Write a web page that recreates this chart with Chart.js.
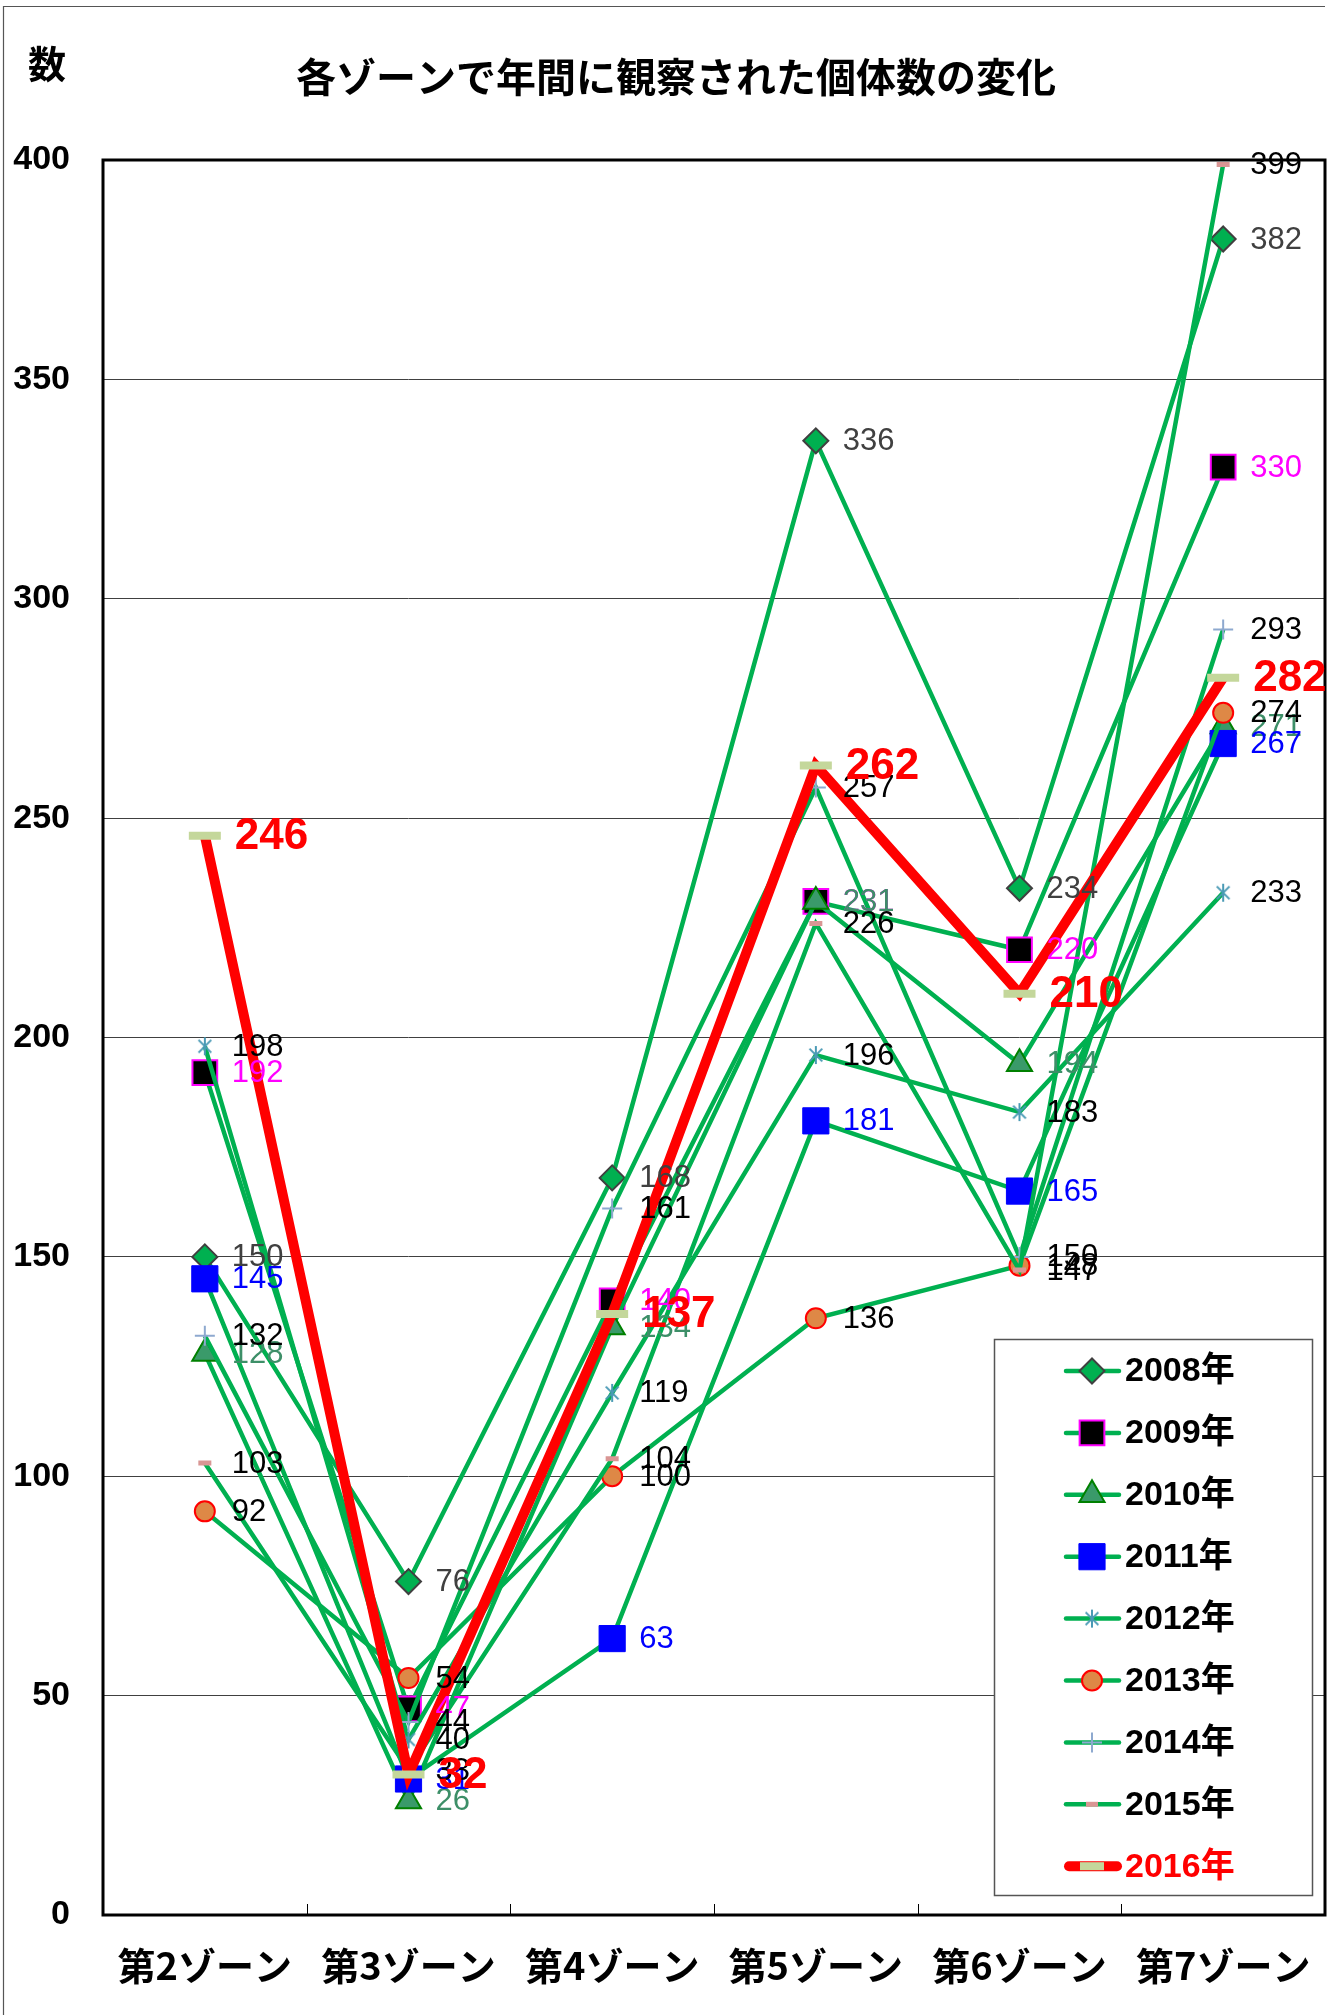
<!DOCTYPE html>
<html>
<head>
<meta charset="utf-8">
<script src="https://cdn.jsdelivr.net/npm/chart.js@4/dist/chart.umd.min.js"></script>
<style>
  html, body { margin: 0; padding: 0; background: #ffffff; }
  #wrap { width: 1335px; height: 2015px; position: relative; }
</style>
</head>
<body>
<div id="wrap"><canvas id="c" width="1335" height="2015"></canvas></div>
<script>
// Zones along the x axis and the yearly counts for each of them
const zones = ['第2ゾーン', '第3ゾーン', '第4ゾーン', '第5ゾーン', '第6ゾーン', '第7ゾーン'];
const years = ['2008年', '2009年', '2010年', '2011年', '2012年', '2013年', '2014年', '2015年', '2016年'];

const y2008 = [150, 76, 168, 336, 234, 382];
const y2009 = [192, 47, 140, 231, 220, 330];
const y2010 = [128, 26, 134, 231, 194, 271];
const y2011 = [145, 31, 63, 181, 165, 267];
const y2012 = [198, 40, 119, 196, 183, 233];
const y2013 = [92, 54, 100, 136, 148, 274];
const y2014 = [132, 44, 161, 257, 150, 293];
const y2015 = [103, 33, 104, 226, 147, 399];
const y2016 = [246, 32, 137, 262, 210, 282];

const yMin = 0, yMax = 400, yStep = 50;

const chartTitle = '各ゾーンで年間に観察された個体数の変化';
const yAxisTitle = '数';

const JP = '"Noto Sans CJK JP", "Noto Sans", sans-serif';
const LAT = '"Liberation Sans", Arial, "Noto Sans CJK JP", sans-serif';

const GREEN = '#00B050';

// six-armed asterisk marker (X with a vertical stroke)
function makeAsterisk(color, size) {
  const c = document.createElement('canvas');
  c.width = size; c.height = size;
  const g = c.getContext('2d');
  const m = size / 2, r = size / 2 - 2;
  g.strokeStyle = color;
  g.lineWidth = 2;
  g.beginPath();
  g.moveTo(m, m - r); g.lineTo(m, m + r);
  const d = r * Math.SQRT1_2;
  g.moveTo(m - d, m - d); g.lineTo(m + d, m + d);
  g.moveTo(m + d, m - d); g.lineTo(m - d, m + d);
  g.stroke();
  return c;
}
const asterisk = makeAsterisk('#4A9AB5', 22);

const seriesValues = [y2008, y2009, y2010, y2011, y2012, y2013, y2014, y2015, y2016];

const styles = [
  { pointStyle: 'rectRot', radius: 12.5, bg: GREEN, bd: '#404040', bw: 2, label: '#404040' },
  { pointStyle: 'rect', radius: 17.5, bg: '#000000', bd: '#FF00FF', bw: 2, label: '#FF00FF' },
  { pointStyle: 'triangle', radius: 14.5, bg: '#3A9A6A', bd: '#008000', bw: 2, label: '#3D8F68' },
  { pointStyle: 'rect', radius: 18.5, bg: '#0000FF', bd: '#0000FF', bw: 1, label: '#0000FF' },
  { pointStyle: asterisk, radius: 11, bg: '#4A9AB5', bd: '#4A9AB5', bw: 2, label: '#000000' },
  { pointStyle: 'circle', radius: 10, bg: '#DE8846', bd: '#FF0000', bw: 2, label: '#000000' },
  { pointStyle: 'cross', radius: 10, bg: '#8EA9CF', bd: '#8EA9CF', bw: 2, label: '#000000' },
  { pointStyle: 'line', radius: 6.5, bg: '#D99694', bd: '#D99694', bw: 5, label: '#000000' },
  { pointStyle: 'line', radius: 16, bg: '#C4D79B', bd: '#C4D79B', bw: 8, label: '#FF0000' }
];

const datasets = seriesValues.map((vals, i) => {
  const s = styles[i];
  const last = i === seriesValues.length - 1;
  return {
    label: years[i],
    data: vals,
    borderColor: last ? '#FF0000' : GREEN,
    borderWidth: last ? 10 : 4.5,
    borderJoinStyle: 'miter',
    pointStyle: s.pointStyle,
    pointRadius: s.radius,
    pointBackgroundColor: s.bg,
    pointBorderColor: s.bd,
    pointBorderWidth: s.bw,
    pointHoverRadius: s.radius,
    tension: 0,
    fill: false,
    order: seriesValues.length - 1 - i,
    labelColor: s.label,
    labelBold: last
  };
});

function pointOpts(ds) {
  return { pointStyle: ds.pointStyle, rotation: 0, radius: ds.pointRadius, borderWidth: ds.pointBorderWidth };
}

function drawMarker(ctx, ds, x, y) {
  ctx.save();
  ctx.fillStyle = ds.pointBackgroundColor;
  ctx.strokeStyle = ds.pointBorderColor;
  ctx.lineWidth = ds.pointBorderWidth;
  Chart.helpers.drawPoint(ctx, pointOpts(ds), x, y);
  ctx.restore();
}

const decorations = {
  id: 'decorations',
  beforeDraw(chart) {
    const ctx = chart.ctx;
    ctx.save();
    ctx.fillStyle = '#ffffff';
    ctx.fillRect(0, 0, chart.width, chart.height);
    ctx.restore();
  },
  afterDatasetsDraw(chart) {
    const ctx = chart.ctx;
    const area = chart.chartArea;
    const xs = chart.scales.x;

    // plot frame
    ctx.save();
    ctx.strokeStyle = '#000000';
    ctx.lineWidth = 3;
    ctx.strokeRect(area.left, area.top, area.right - area.left, area.bottom - area.top);

    // inner tick marks between zones
    ctx.lineWidth = 1;
    const half = (xs.getPixelForValue(1) - xs.getPixelForValue(0)) / 2;
    for (let i = 1; i < zones.length; i++) {
      const px = Math.round(xs.getPixelForValue(i) - half) + 0.5;
      ctx.beginPath();
      ctx.moveTo(px, area.bottom);
      ctx.lineTo(px, area.bottom - 11);
      ctx.stroke();
    }
    ctx.restore();

    // value labels next to each point
    ctx.save();
    ctx.textAlign = 'left';
    ctx.textBaseline = 'middle';
    chart.data.datasets.forEach((ds, di) => {
      const meta = chart.getDatasetMeta(di);
      ctx.fillStyle = ds.labelColor;
      ctx.font = ds.labelBold ? 'bold 44px ' + LAT : '31px ' + LAT;
      meta.data.forEach((pt, j) => {
        ctx.fillText(String(ds.data[j]), pt.x + (ds.labelBold ? 30 : 27), pt.y + 1);
      });
    });
    ctx.restore();
  },
  afterDraw(chart) {
    const ctx = chart.ctx;
    ctx.save();
    // outer frame
    ctx.strokeStyle = '#555555';
    ctx.lineWidth = 1.2;
    ctx.beginPath();
    ctx.moveTo(3.5, 2100);
    ctx.lineTo(3.5, 6.5);
    ctx.lineTo(1325, 6.5);
    ctx.stroke();

    // titles
    ctx.fillStyle = '#000000';
    ctx.textBaseline = 'middle';
    ctx.textAlign = 'center';
    ctx.font = 'bold 40px ' + JP;
    ctx.fillText(chartTitle, 676, 77);
    ctx.font = 'bold 38px ' + JP;
    ctx.fillText(yAxisTitle, 47, 64);

    // legend
    const lx = 994.5, ly = 1339.5, lw = 318, lh = 556;
    ctx.fillStyle = '#ffffff';
    ctx.fillRect(lx, ly, lw, lh);
    ctx.strokeStyle = '#555555';
    ctx.lineWidth = 1.5;
    ctx.strokeRect(lx, ly, lw, lh);
    chart.data.datasets.forEach((ds, i) => {
      const cy = 1371 + i * 61.9;
      ctx.save();
      ctx.strokeStyle = ds.borderColor;
      ctx.lineWidth = ds.labelBold ? 10 : 4.5;
      ctx.lineCap = 'round';
      ctx.beginPath();
      ctx.moveTo(ds.labelBold ? 1069 : 1066, cy);
      ctx.lineTo(ds.labelBold ? 1117 : 1119, cy);
      ctx.stroke();
      ctx.restore();
      const legendDs = Object.assign({}, ds);
      if (ds.pointStyle === 'line') legendDs.pointRadius = ds.labelBold ? 12 : 6;
      drawMarker(ctx, legendDs, 1092, cy);
      ctx.fillStyle = ds.labelBold ? '#FF0000' : '#000000';
      ctx.textAlign = 'left';
      ctx.textBaseline = 'middle';
      ctx.font = 'bold 34px ' + LAT;
      ctx.fillText(ds.label, 1125, cy + 1);
    });
    ctx.restore();
  }
};

new Chart(document.getElementById('c'), {
  type: 'line',
  data: { labels: zones, datasets: datasets },
  options: {
    responsive: false,
    animation: false,
    devicePixelRatio: 1,
    layout: { autoPadding: false, padding: { top: 160, right: 10, left: 0, bottom: 0 } },
    plugins: {
      legend: { display: false },
      title: { display: false },
      tooltip: { enabled: false }
    },
    scales: {
      x: {
        type: 'category',
        offset: true,
        grid: { display: false, drawTicks: false },
        border: { display: false },
        ticks: {
          color: '#000000',
          font: { family: JP, size: 38, weight: 'bold' },
          padding: 28,
          maxRotation: 0,
          autoSkip: false
        },
        afterFit(scale) {
          scale.height = 100;
          scale.paddingLeft = 0;
          scale.paddingRight = 0;
        }
      },
      y: {
        min: yMin,
        max: yMax,
        grid: { color: '#404040', lineWidth: 1, drawTicks: false },
        border: { display: false },
        ticks: {
          stepSize: yStep,
          color: '#000000',
          font: { family: LAT, size: 34, weight: 'bold' },
          padding: 33
        },
        afterFit(scale) {
          scale.width = 103;
          scale.paddingTop = 0;
          scale.paddingBottom = 0;
        }
      }
    }
  },
  plugins: [decorations]
});
</script>
</body>
</html>
